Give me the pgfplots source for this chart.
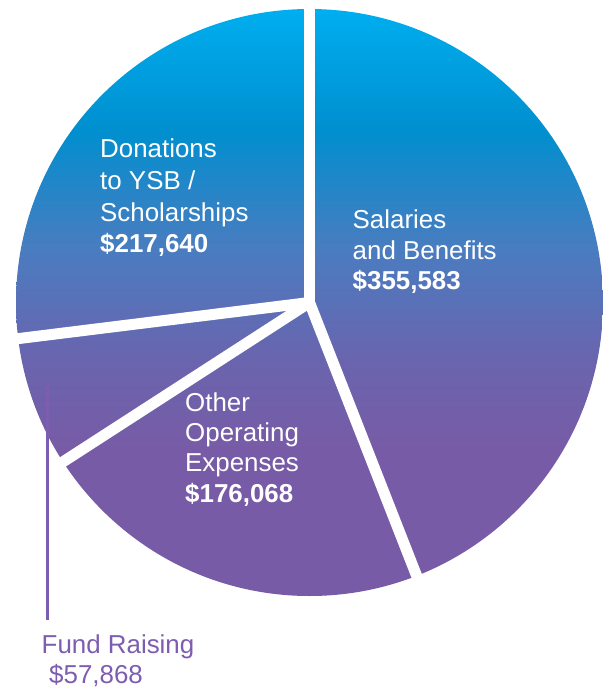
\documentclass[border=0pt]{standalone}
\usepackage{pgfplots}
\usepackage{pgfplotstable}
\pgfplotsset{compat=1.18}
\usepackage{fontspec}
\setmainfont{Liberation Sans}

\definecolor{pietop}{HTML}{00AEEF}
\definecolor{pieblue}{HTML}{008FCF}
\definecolor{piemid}{HTML}{4A7CC0}
\definecolor{pielav}{HTML}{6A64AE}
\definecolor{piepurple}{HTML}{785BA6}
\definecolor{labelpurple}{HTML}{7C5DB0}

% one gradient over the whole pie, bottom (25bp) to top (75bp)
\pgfdeclareverticalshading{pieshade}{100bp}{color(0bp)=(piepurple); color(37.4bp)=(piepurple); color(45.1bp)=(pielav); color(54.5bp)=(piemid); color(64.7bp)=(pieblue); color(75bp)=(pietop); color(100bp)=(pietop)}

\pgfplotstableread{
item value
Salaries 355583
Other 176068
FundRaising 57868
Donations 217640
}\expenses

\pgfplotstablegetelem{0}{value}\of\expenses \edef\vSal{\pgfplotsretval}%
\pgfplotstablegetelem{1}{value}\of\expenses \edef\vOth{\pgfplotsretval}%
\pgfplotstablegetelem{2}{value}\of\expenses \edef\vFund{\pgfplotsretval}%
\pgfplotstablegetelem{3}{value}\of\expenses \edef\vDon{\pgfplotsretval}%
\edef\total{\fpeval{\vSal+\vOth+\vFund+\vDon}}%
% slice boundaries, clockwise from 12 o'clock
\edef\aA{90}%
\edef\aB{\fpeval{90-360*\vSal/\total}}%
\edef\aC{\fpeval{\aB-360*\vOth/\total}}%
\edef\aD{\fpeval{\aC-360*\vFund/\total}}%

\def\cx{309.5}
\def\cy{302.5}
\newcommand\spoke[1]{%
  \draw[white, line width=11bp]
    (axis cs:\cx,\cy) -- (axis cs:{\cx+298*cos(#1)},{\cy-298*sin(#1)});}

\tikzset{lbl/.style={anchor=base west, inner sep=0pt, text=white,
  font=\fontsize{26}{31}\selectfont}}

\begin{document}
\begin{tikzpicture}
\begin{axis}[
    width=603bp, height=689bp,
    scale only axis,
    hide axis,
    clip=false,
    xmin=0, xmax=603,
    ymin=0, ymax=689,
    y dir=reverse,
]
    \shade[shading=pieshade] (axis cs:\cx,\cy) circle[radius=293.5bp];
    \spoke{\aA}%
    \spoke{\aB}%
    \spoke{\aC}%
    \spoke{\aD}%
    \fill[white] (axis cs:\cx,\cy) circle[radius=5.5bp];

    % Donations
    \node[lbl] at (axis cs:100,158) {Donations};
    \node[lbl] at (axis cs:100,190) {to YSB /};
    \node[lbl] at (axis cs:100,221.5) {Scholarships};
    \node[lbl, font=\fontsize{26}{31}\selectfont\bfseries] at (axis cs:100,252.5) {\$217,640};

    % Salaries
    \node[lbl] at (axis cs:352.5,228) {Salaries};
    \node[lbl] at (axis cs:352.5,259) {and Benefits};
    \node[lbl, font=\fontsize{26}{31}\selectfont\bfseries] at (axis cs:352.5,289.5) {\$355,583};

    % Other operating
    \node[lbl] at (axis cs:185,411) {Other};
    \node[lbl] at (axis cs:185,441) {Operating};
    \node[lbl] at (axis cs:185,471) {Expenses};
    \node[lbl, font=\fontsize{26}{31}\selectfont\bfseries] at (axis cs:185,502) {\$176,068};

    % Fund raising, outside with leader
    \draw[labelpurple, line width=2.5bp] (axis cs:47.5,385) -- (axis cs:47.5,620);
    \node[lbl, text=labelpurple] at (axis cs:41.5,653) {Fund Raising};
    \node[lbl, text=labelpurple] at (axis cs:49,683) {\$57,868};
\end{axis}
\pgfresetboundingbox
\path[use as bounding box] (current axis.south west) rectangle (current axis.north east);
\end{tikzpicture}
\end{document}
